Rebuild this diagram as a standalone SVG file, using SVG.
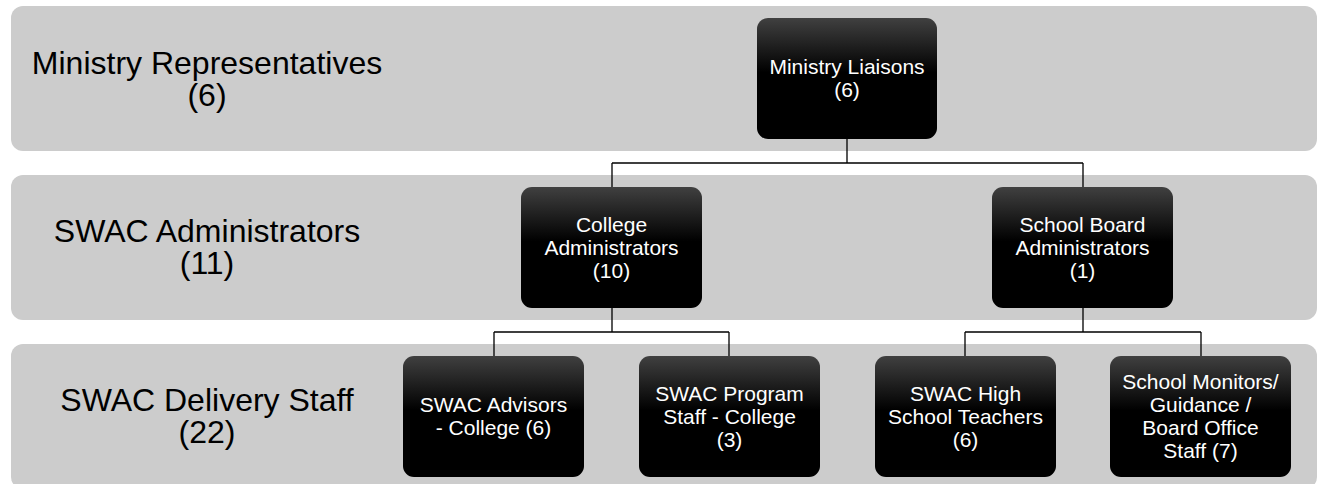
<svg xmlns="http://www.w3.org/2000/svg" width="1319" height="484" viewBox="0 0 1319 484">
  <defs>
    <linearGradient id="nodeFill" x1="0" y1="0" x2="0" y2="1">
      <stop offset="0" stop-color="#404040"/>
      <stop offset="0.45" stop-color="#000000"/>
      <stop offset="1" stop-color="#000000"/>
    </linearGradient>
    <style>
      .band { fill: #cccccc; }
      .band-label { font-family: "Liberation Sans", Arial, sans-serif; font-size: 32px; fill: #000000; text-anchor: middle; }
      .box { fill: url(#nodeFill); }
      .box-label { font-family: "Liberation Sans", Arial, sans-serif; font-size: 21px; fill: #ffffff; text-anchor: middle; }
      .link { fill: none; stroke: #000000; stroke-width: 1.3; }
    </style>
  </defs>

  <!-- tier bands -->
  <g id="band-ministry">
    <rect class="band" x="11" y="6" width="1306" height="145" rx="12" ry="12"/>
    <text class="band-label"><tspan x="207" y="74">Ministry Representatives</tspan><tspan x="207" y="106">(6)</tspan></text>
  </g>
  <g id="band-admin">
    <rect class="band" x="11" y="175" width="1306" height="145" rx="12" ry="12"/>
    <text class="band-label"><tspan x="207" y="242">SWAC Administrators</tspan><tspan x="207" y="274">(11)</tspan></text>
  </g>
  <g id="band-delivery">
    <rect class="band" x="11" y="344" width="1306" height="145" rx="12" ry="12"/>
    <text class="band-label"><tspan x="207" y="411">SWAC Delivery Staff</tspan><tspan x="207" y="443">(22)</tspan></text>
  </g>

  <!-- connectors -->
  <g id="connectors">
    <path class="link" d="M847 139 V163 M612 163 H1083 M612 163 V187 M1083 163 V187"/>
    <path class="link" d="M612 308 V332 M494 332 H729 M494 332 V356 M729 332 V356"/>
    <path class="link" d="M1083 308 V332 M965 332 H1201 M965 332 V356 M1201 332 V356"/>
  </g>

  <!-- nodes -->
  <g id="ministry-liaisons">
    <rect class="box" x="757" y="18" width="180" height="121" rx="11" ry="11"/>
    <text class="box-label"><tspan x="847" y="74">Ministry Liaisons</tspan><tspan x="847" y="97">(6)</tspan></text>
  </g>
  <g id="college-administrators">
    <rect class="box" x="521" y="187" width="181" height="121" rx="11" ry="11"/>
    <text class="box-label"><tspan x="611.5" y="232">College</tspan><tspan x="611.5" y="255">Administrators</tspan><tspan x="611.5" y="278">(10)</tspan></text>
  </g>
  <g id="school-board-administrators">
    <rect class="box" x="992" y="187" width="181" height="121" rx="11" ry="11"/>
    <text class="box-label"><tspan x="1082.5" y="232">School Board</tspan><tspan x="1082.5" y="255">Administrators</tspan><tspan x="1082.5" y="278">(1)</tspan></text>
  </g>
  <g id="swac-advisors">
    <rect class="box" x="403" y="356" width="181" height="121" rx="11" ry="11"/>
    <text class="box-label"><tspan x="493.5" y="412">SWAC Advisors</tspan><tspan x="493.5" y="435">- College (6)</tspan></text>
  </g>
  <g id="swac-program-staff">
    <rect class="box" x="639" y="356" width="181" height="121" rx="11" ry="11"/>
    <text class="box-label"><tspan x="729.5" y="401">SWAC Program</tspan><tspan x="729.5" y="424">Staff - College</tspan><tspan x="729.5" y="447">(3)</tspan></text>
  </g>
  <g id="swac-high-school-teachers">
    <rect class="box" x="875" y="356" width="181" height="121" rx="11" ry="11"/>
    <text class="box-label"><tspan x="965.5" y="401">SWAC High</tspan><tspan x="965.5" y="424">School Teachers</tspan><tspan x="965.5" y="447">(6)</tspan></text>
  </g>
  <g id="school-monitors">
    <rect class="box" x="1110" y="356" width="181" height="121" rx="11" ry="11"/>
    <text class="box-label"><tspan x="1200.5" y="389">School Monitors/</tspan><tspan x="1200.5" y="412">Guidance /</tspan><tspan x="1200.5" y="435">Board Office</tspan><tspan x="1200.5" y="458">Staff (7)</tspan></text>
  </g>
</svg>
